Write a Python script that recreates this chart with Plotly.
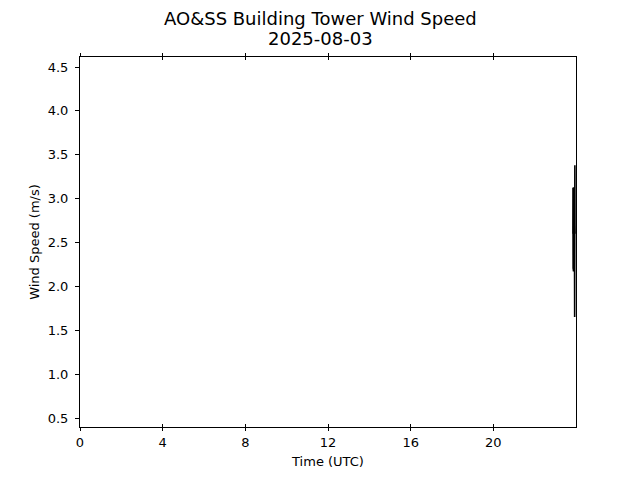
import plotly.graph_objects as go

# Time in hours (UTC) and wind speed (m/s)
time_hours = [23.85, 23.855, 23.86, 23.865, 23.87, 23.875, 23.88, 23.885, 23.89,
              23.895, 23.90, 23.905, 23.91, 23.915, 23.92, 23.925, 23.93, 23.935,
              23.94, 23.945, 23.95, 23.955]
wind_speed = [2.6, 3.12, 2.2, 3.1, 2.18, 3.13, 2.17, 3.05, 2.2,
              3.1, 2.19, 3.12, 2.18, 3.0, 2.25, 3.1, 2.2, 1.65,
              2.5, 3.38, 2.7, 2.6]

x_ticks = [0, 4, 8, 12, 16, 20]
x_tick_labels = ["0", "4", "8", "12", "16", "20"]
y_ticks = [0.5, 1.0, 1.5, 2.0, 2.5, 3.0, 3.5, 4.0, 4.5]

title_line1 = "AO&SS Building Tower Wind Speed"
title_line2 = "2025-08-03"

font_family = "DejaVu Sans"

fig = go.Figure()
fig.add_trace(go.Scatter(x=time_hours, y=wind_speed, mode="lines",
                         line=dict(color="black", width=1.6, simplify=False),
                         showlegend=False))
fig.add_trace(go.Scatter(x=[None], y=[None], xaxis="x2", showlegend=False,
                         hoverinfo="skip"))

title_x = (320 - 80) / 496
fig.update_layout(
    width=624, height=464,
    paper_bgcolor="white", plot_bgcolor="white",
    margin=dict(l=72, r=56, t=49, b=45, autoexpand=False),
    font=dict(family=font_family, size=13, color="black"),
    annotations=[
        dict(text=title_line1, x=title_x, xref="paper", xanchor="center",
             y=1, yref="paper", yanchor="middle", yshift=39, showarrow=False,
             font=dict(size=18, family=font_family, color="black")),
        dict(text=title_line2, x=title_x, xref="paper", xanchor="center",
             y=1, yref="paper", yanchor="middle", yshift=19, showarrow=False,
             font=dict(size=18, family=font_family, color="black")),
    ],
    xaxis=dict(range=[0, 24], tickvals=x_ticks, ticktext=x_tick_labels,
               ticks="outside", ticklen=3, tickwidth=1, tickcolor="black",
               showline=True, linecolor="black", linewidth=1, mirror="ticks",
               showgrid=False, zeroline=False, automargin=False,
               title=dict(text="Time (UTC)", standoff=8,
                          font=dict(size=13, family=font_family))),
    xaxis2=dict(range=[0, 24], tickvals=x_ticks, overlaying="x",
                ticks="inside", ticklen=3, tickwidth=1, tickcolor="black",
                showticklabels=False, showline=False, mirror="ticks",
                showgrid=False, zeroline=False, automargin=False),
    yaxis=dict(range=[0.398, 4.614], tickvals=y_ticks, tickformat=".1f",
               ticks="outside", ticklen=4, tickwidth=1, tickcolor="black",
               ticklabelstandoff=4, automargin=False,
               showline=True, linecolor="black", linewidth=1, mirror=True,
               showgrid=False, zeroline=False,
               title=dict(text="Wind Speed (m/s)", standoff=5,
                          font=dict(size=13, family=font_family))),
)

fig.write_html("out.html")
